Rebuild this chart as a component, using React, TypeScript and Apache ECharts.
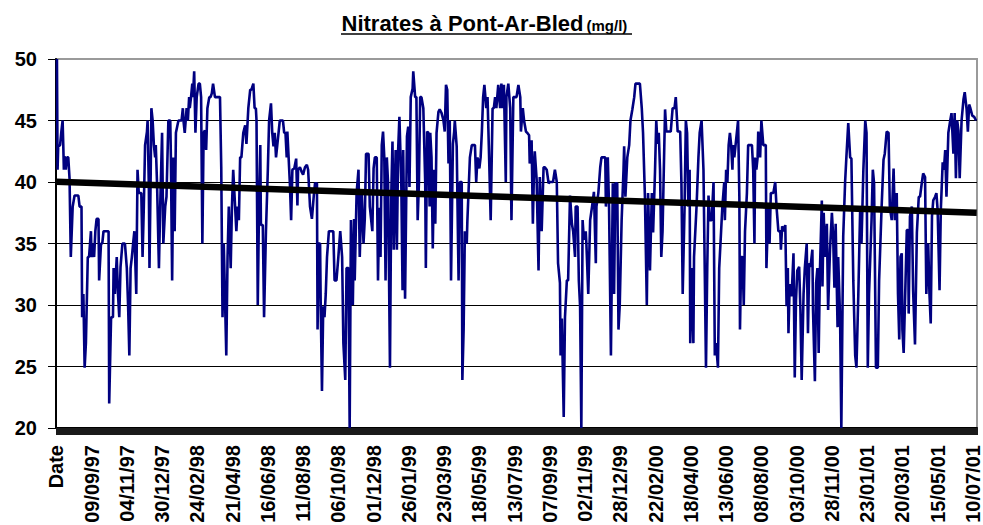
import React, { useEffect, useRef } from "react";
import * as echarts from "echarts";

// Category index 0 = "Date" header; index 1 = 16/07/97, one category per day (1463 categories).
const tickLabels = [
  "Date", "09/09/97", "04/11/97", "30/12/97", "24/02/98", "21/04/98", "16/06/98",
  "11/08/98", "06/10/98", "01/12/98", "26/01/99", "23/03/99", "18/05/99", "13/07/99",
  "07/09/99", "02/11/99", "28/12/99", "22/02/00", "18/04/00", "13/06/00", "08/08/00",
  "03/10/00", "28/11/00", "23/01/01", "20/03/01", "15/05/01", "10/07/01",
];
const categoryCount = 1463;
const labelStep = 56;

const data1997 = [[1,50],[2,41],[3,42.9],[6,43],[8,44.1],[10,45],[11,43.1],[12,41],[13,42.1],[15,41],[17,42],[19,42],[21,40.3],[23,33.9],[26,38],[29,38.9],[35,38.9],[37,38],[40,38],[41,29],[43,30.9],[45,24.9],[47,26.9],[50,33.9],[52,33.9],[55,36],[56,33.9],[58,35],[60,33.9],[62,36],[64,37],[67,37],[68,32],[71,35],[73,35],[75,36],[83,36],[84,22],[87,29],[90,29],[91,33],[93,30.9],[96,33.9],[98,30.9],[100,29],[102,33.1],[105,35],[109,35],[112,33],[114,30],[116,25.9],[118,33],[120,33.9],[122,35],[124,36],[127,30.9],[129,41],[131,39.1],[135,39.1],[137,33.9],[139,38],[141,43],[144,44.1],[145,45],[147,39.6],[148,33],[150,41],[151,46],[153,45],[155,43],[157,42],[158,43],[160,39.9],[163,33],[165,38],[168,44]];

const data1998 = [[170,35],[173,38],[175,38.8],[178,45],[181,45],[182,42],[184,32],[186,42],[188,36],[190,44],[191,44],[194,45],[199,45],[201,46],[202,45],[204,44],[207,46],[209,45],[211,46.9],[212,46],[214,46.9],[216,48],[217,46.9],[219,49],[221,44],[223,46.9],[226,48],[228,48],[230,46.9],[232,35],[234,44],[236,44.2],[238,42.6],[240,46],[243,46.9],[245,46.9],[247,47.2],[249,48],[252,46.9],[260,46.9],[262,41.2],[264,29],[266,35],[270,25.9],[272,33.9],[274,38],[277,33],[279,38],[281,41],[284,38],[286,36],[288,38],[290,36.9],[292,42],[294,42],[297,44],[300,44.6],[302,43.1],[305,46],[308,47.5],[310,47.5],[313,48],[315,46],[317,46],[318,45],[320,30],[322,38],[324,43],[325,36.5],[328,36.5],[330,29],[333,36],[336,41],[338,45],[341,46.4],[343,44],[345,42.9],[347,44],[349,42],[351,43],[353,44],[355,45],[360,45],[362,44],[364,44],[366,42],[367,44.1],[369,42],[371,39.9],[373,36.9],[375,41],[378,41.1],[381,41.9],[383,38.1],[384,41],[387,41.2],[390,40.8],[392,40.6],[395,41.2],[398,41.4],[400,41],[403,38],[406,37],[409,38.9],[411,39.9],[414,39.9],[415,28],[417,35],[419,35],[420,30],[422,23],[424,29.9],[426,29],[428,30.9],[430,33.9],[433,36],[440,36],[442,32],[445,32],[448,33.9],[451,36],[454,33.9],[456,26.9],[459,23.9],[461,33],[464,33],[466,20],[468,36.9],[471,30],[473,37],[474,32],[477,39.1],[480,41],[482,33.9],[485,39.4],[488,35],[490,37],[492,42.3],[496,42.3],[498,38],[502,36],[504,41.1],[506,42],[509,42],[511,32],[513,37.9],[515,33.9],[517,43],[519,44.1],[521,42],[523,32],[525,42],[527,39.9],[530,24.9],[532,38.8],[534,43.3]];

const data1999 = [[536,34.5],[539,42.6],[541,34.5],[543,42.6],[545,45.3],[548,39.9],[550,31.2],[551,42.6],[554,30.5],[557,43.7],[559,44.5],[561,39.6],[563,46.9],[566,47.6],[567,49],[570,46.9],[572,46.9],[574,36.9],[576,39.9],[578,46.9],[580,46.9],[583,46],[586,39.9],[587,33],[589,44.1],[591,44],[593,38],[594,44],[596,42],[598,34.6],[600,41],[602,36.6],[604,44],[607,45.7],[609,45.9],[612,45.6],[615,45],[617,44.1],[619,47.9],[621,47.5],[623,41.5],[625,45],[627,32],[630,43.1],[632,44.1],[633,45],[636,42.9],[639,32],[641,40],[644,40],[645,23.9],[647,28],[649,36],[652,35],[653,36.9],[657,42],[660,43],[665,43],[667,40],[669,42],[672,41.1],[674,42],[676,44.1],[678,46.9],[680,47.9],[683,46],[685,46.9],[687,43],[690,36.9],[693,46],[695,46],[697,46.9],[699,46],[702,47.9],[705,46],[707,48],[709,46],[711,47.9],[714,40],[715,46.9],[718,48],[721,46],[723,36.9],[726,46.9],[729,46.9],[731,46.9],[734,47.9],[737,46.9],[738,44.1],[741,46],[743,45],[746,44.1],[748,44],[751,43.8],[752,41.5],[755,43.4],[757,36.6],[759,41.5],[760,42.5],[763,40.2],[766,32.8],[768,40.4],[771,36],[774,41.2],[776,41.2],[779,41],[782,39.9],[784,40],[789,40],[792,41],[795,40],[797,33.4],[800,31.8],[801,25.9],[803,28.9],[806,20.9],[808,29],[811,32],[813,32],[816,38.9],[819,36.6],[821,36],[824,33.9],[825,38],[828,38],[830,32],[832,29.9],[834,20],[836,36.9],[838,35.3],[841,36],[842,35],[845,30.9],[848,36.9],[851,38],[854,39.2],[857,33.4],[858,38],[861,39.1],[864,41.2],[866,42],[869,42],[872,42],[873,38],[876,42],[878,38],[881,25.9],[884,39.9],[886,30.9],[888,39.9],[891,39.9],[893,28],[895,30],[898,36.9]];

const data2000 = [[901,41],[902,42.9],[904,38.8],[907,42],[910,43],[912,45],[915,45.9],[918,46.9],[920,48],[927,48],[930,46],[932,44],[935,38.8],[938,30],[940,39.1],[943,32.8],[946,39.1],[948,35.9],[951,40.8],[953,45],[955,43.1],[957,44],[959,41],[961,33.9],[963,36],[965,41],[967,45.9],[969,44.1],[976,44.1],[979,46],[982,46],[984,46.9],[987,44.1],[991,44.1],[993,39.9],[995,30.9],[998,38],[1000,45],[1002,44],[1004,38],[1006,41],[1007,26.9],[1009,33],[1012,26.9],[1013,33.9],[1017,38],[1020,42],[1022,44],[1025,45],[1028,41],[1029,41],[1032,24.9],[1034,33],[1036,38.9],[1038,36.9],[1041,36.9],[1044,40],[1046,25.9],[1048,26.9],[1051,24.9],[1053,33],[1056,36],[1058,38],[1061,40],[1062,36.9],[1064,41],[1066,40],[1068,43],[1070,44],[1072,43],[1074,41],[1075,43],[1077,42],[1079,43],[1081,44],[1083,45],[1085,38.8],[1086,28],[1088,33.9],[1090,33.9],[1092,30],[1094,36],[1097,39.1],[1099,43],[1102,43],[1105,43],[1107,41],[1109,35],[1110,42],[1112,41],[1114,42],[1115,44.1],[1118,42],[1120,45],[1123,43],[1127,43],[1128,33],[1131,38],[1133,35],[1135,39.1],[1139,39.1],[1142,40],[1144,38],[1147,36],[1150,36],[1151,34.5],[1153,36.4],[1156,36],[1158,36.5],[1160,29.9],[1162,33],[1163,27.7],[1165,31.7],[1168,30.7],[1171,34.2],[1173,24.1],[1175,30.4],[1177,32.8],[1180,33.1],[1182,29.6],[1184,23.9],[1187,30.9],[1189,33],[1192,35],[1194,27.7],[1196,33.4],[1198,33.1],[1201,34.5],[1202,29.6],[1205,23.8],[1207,31.8],[1209,33],[1211,26.1],[1213,32.8],[1216,38.5],[1217,31.5],[1219,37.5],[1221,33.9],[1224,36.6],[1226,29.6],[1229,34.5],[1232,37.5],[1234,35.6],[1236,31.4],[1238,36.6],[1241,28.2],[1242,33.9],[1245,29],[1247,20],[1250,35.6],[1253,40],[1255,42],[1258,44.8],[1261,42],[1263,41.9]];

const data2001 = [[1266,32],[1269,25.9],[1271,24.9],[1274,30.9],[1277,38],[1279,35],[1282,41],[1285,45],[1287,44],[1289,24.9],[1291,30.9],[1295,36.9],[1297,41],[1299,39.9],[1302,24.9],[1305,24.9],[1307,32],[1311,38],[1314,41.8],[1316,42.3],[1319,44.1],[1322,44],[1324,38],[1327,36.9],[1330,41.1],[1332,36.9],[1335,39.1],[1337,30.9],[1339,27.2],[1341,33.9],[1343,34.2],[1344,28],[1346,26.1],[1349,32],[1351,36.1],[1353,36.1],[1354,29.3],[1356,37.2],[1359,38],[1361,31.2],[1364,26.8],[1367,35.9],[1370,38.8],[1372,38.8],[1375,40],[1377,40.7],[1380,40.4],[1382,30.9],[1385,35],[1387,30.9],[1389,28.5],[1391,37.2],[1393,38.5],[1396,38.8],[1398,39.1],[1400,37.7],[1403,31.2],[1405,37.7],[1408,41.6],[1410,41],[1412,42.6],[1414,38.8],[1417,44],[1420,45],[1422,45.6],[1425,42.3],[1427,45.6],[1429,40.3],[1431,45],[1433,44.2],[1435,40.3],[1438,45],[1441,46.7],[1443,47.3],[1446,45.9],[1448,44.1],[1450,46.3],[1452,46],[1455,45.4],[1458,45.3],[1461,45]];

const trendLine = [[0, 40.02], [1462, 37.5]];

const FONT = "'Liberation Sans', Arial, sans-serif";

export default function App() {
  const ref = useRef<HTMLDivElement>(null);
  useEffect(() => {
    if (!ref.current) return;
    const chart = echarts.init(ref.current, null, { renderer: "svg" });
    const nitrates = [...data1997, ...data1998, ...data1999, ...data2000, ...data2001];
    const categories = Array.from({ length: categoryCount }, (_, i) =>
      i % labelStep === 0 ? tickLabels[i / labelStep] : "d" + i
    );
    chart.setOption({
      animation: false,
      backgroundColor: "#ffffff",
      grid: {
        left: 56,
        right: 6,
        top: 59,
        bottom: 97,
        containLabel: false,
        outerBoundsMode: "none",
        show: true,
        borderColor: "#9a9a9a",
        borderWidth: 2,
        backgroundColor: "#ffffff",
      },
      graphic: [
        {
          type: "text",
          style: {
            text: "Nitrates à Pont-Ar-Bled",
            x: 341.5,
            y: 23,
            fontSize: 22,
            fontWeight: "bold",
            fontFamily: FONT,
            fill: "#000",
            textAlign: "left",
            textVerticalAlign: "middle",
          },
        },
        {
          type: "text",
          style: {
            text: "(mg/l)",
            x: 586.5,
            y: 25.5,
            fontSize: 15,
            fontWeight: "bold",
            fontFamily: FONT,
            fill: "#000",
            textAlign: "left",
            textVerticalAlign: "middle",
          },
        },
        {
          type: "line",
          shape: { x1: 341, y1: 34, x2: 632, y2: 34 },
          style: { stroke: "#000", lineWidth: 1.6 },
        },
      ],
      xAxis: {
        type: "category",
        data: categories,
        boundaryGap: true,
        splitLine: { show: false },
        axisLine: { show: true, lineStyle: { color: "#000", width: 2 } },
        axisTick: { show: true, interval: 0, length: 7, lineStyle: { color: "#1a1a1a", width: 1 } },
        axisLabel: {
          interval: labelStep - 1,
          rotate: 90,
          margin: 17,
          fontSize: 20,
          fontWeight: "bold",
          fontFamily: FONT,
          color: "#000",
          hideOverlap: false,
        },
      },
      yAxis: {
        type: "value",
        min: 20,
        max: 50,
        interval: 5,
        axisLine: { show: true, lineStyle: { color: "#000", width: 2 } },
        axisTick: { show: true, length: 8, lineStyle: { color: "#000", width: 1 } },
        splitLine: {
          show: true,
          lineStyle: {
            color: ["#000", "#000", "#000", "#000", "#000", "#000", "#9a9a9a"],
            width: 1,
          },
        },
        axisLabel: {
          margin: 19,
          fontSize: 20,
          fontWeight: "bold",
          fontFamily: FONT,
          color: "#000",
        },
      },
      series: [
        {
          name: "Nitrates",
          type: "line",
          data: nitrates,
          showSymbol: false,
          symbol: "none",
          lineStyle: { color: "#000080", width: 2.6 },
          z: 2,
        },
        {
          name: "Tendance",
          type: "line",
          data: trendLine,
          showSymbol: false,
          symbol: "none",
          lineStyle: { color: "#000", width: 6.5 },
          z: 3,
        },
      ],
    });
    return () => chart.dispose();
  }, []);
  return (
    <div
      ref={ref}
      style={{ position: "fixed", left: 0, top: 0, width: 983, height: 525 }}
    />
  );
}
